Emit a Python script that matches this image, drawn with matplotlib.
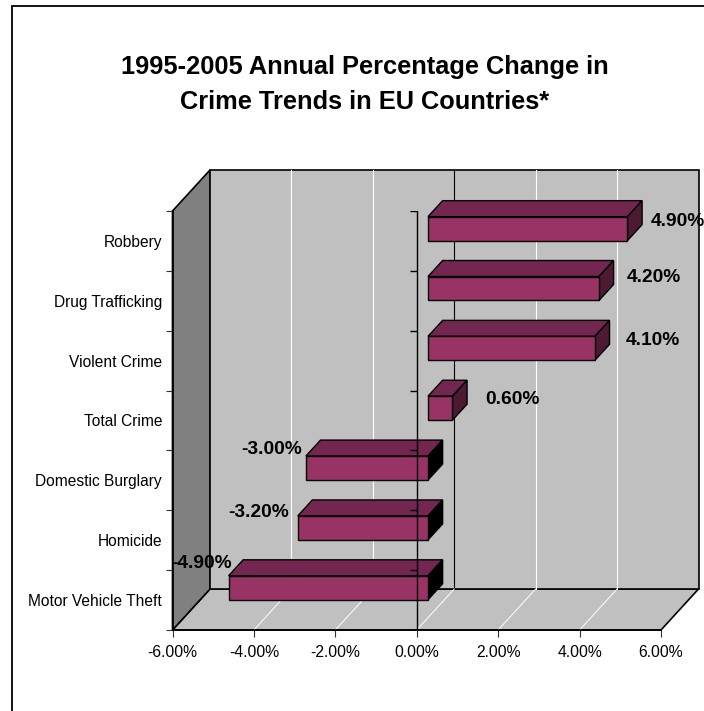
# -*- coding: utf-8 -*-
"""
Excel style 3D bar chart, crime trends in EU countries
"""
import numpy as np
import matplotlib
matplotlib.use("Agg")
import matplotlib.pyplot as plt
from matplotlib.patches import Polygon, Rectangle

plt.rcParams['font.family'] = ['Liberation Sans', 'DejaVu Sans']

title = "1995-2005 Annual Percentage Change in\nCrime Trends in EU Countries*"
categories = ["Robbery", "Drug Trafficking", "Violent Crime", "Total Crime",
              "Domestic Burglary", "Homicide", "Motor Vehicle Theft"]
changes = [4.9, 4.2, 4.1, 0.6, -3.0, -3.2, -4.9]
x_ticks = [-6, -4, -2, 0, 2, 4, 6]

W, H = 704, 711
fig = plt.figure(figsize=(W / 100, H / 100), dpi=100)

# the axes is the front plane of the 3D box
left, right, top, bottom = 172.5, 661, 211, 630
ax = fig.add_axes([left / W, 1 - bottom / H, (right - left) / W, (bottom - top) / H])
ax.set_xlim(-6, 6)
ax.set_ylim(6.5, -0.5)
ax.set_facecolor('none')

# depth of the box in data units
depth_x = 37.5 / ((right - left) / 12)
depth_y = -41 / ((bottom - top) / 7)


def shifted(x, y, d):
    return (x + d * depth_x, y + d * depth_y)


def box_poly(points, color, z, lw=1.0, edge='black'):
    ax.add_patch(Polygon(points, closed=True, facecolor=color, edgecolor=edge,
                         linewidth=lw, zorder=z, clip_on=False, joinstyle='miter'))


y0, y1 = 6.5, -0.5
# floor, side wall and back wall
box_poly([(-6, y0), (6, y0), shifted(6, y0, 1), shifted(-6, y0, 1)], '#C0C0C0', 1, lw=1.2)
box_poly([(-6, y0), shifted(-6, y0, 1), shifted(-6, y1, 1), (-6, y1)], '#808080', 1, lw=1.2)
box_poly([shifted(-6, y0, 1), shifted(6, y0, 1), shifted(6, y1, 1), shifted(-6, y1, 1)],
         '#C0C0C0', 1, lw=1.2)

# gridlines on the back wall and the floor
for t in x_ticks[1:-1]:
    bx, by0 = shifted(t, y0, 1)
    _, by1 = shifted(t, y1, 1)
    ax.plot([bx, bx], [by0, by1], color='black' if t == 0 else 'white', lw=0.8,
            zorder=1.5, clip_on=False)
    ax.plot([t, bx], [y0, by0], color='white', lw=0.7, zorder=1.5, clip_on=False)

# bars sit in the middle of the depth
d_front, d_back = 0.3, 0.69
bar_h = 0.4
front_col, top_col, side_col = '#993366', '#732650', '#4D1A33'
ypos = np.arange(len(categories))

ax.barh(ypos + d_front * depth_y, changes, left=d_front * depth_x, height=bar_h,
        color=front_col, edgecolor='black', linewidth=1.0, zorder=3.2)
for y, v in zip(ypos, changes):
    lo, hi = min(v, 0), max(v, 0)
    ya, yb = y - bar_h / 2, y + bar_h / 2
    box_poly([shifted(lo, ya, d_front), shifted(hi, ya, d_front),
              shifted(hi, ya, d_back), shifted(lo, ya, d_back)], top_col, 3)
    box_poly([shifted(hi, ya, d_front), shifted(hi, yb, d_front),
              shifted(hi, yb, d_back), shifted(hi, ya, d_back)],
             side_col if v > 0 else 'black', 3)

# value axis crossing at zero, drawn over the bars
ax.axvline(0, color='black', lw=1.0, zorder=4)
edges = np.arange(len(categories) + 1) - 0.5
ax.hlines(edges, -7 / ((right - left) / 12), 0, color='black', lw=1.0, zorder=4)

# data labels, hand nudged like the original (pixels from the bar end)
nudges = [(23, 7.5), (28, 11), (31, 8), (33, 9), (-4, 19), (-9, 15), (3, 24)]
for y, v, (nx, ny) in zip(ypos, changes, nudges):
    ax.annotate("%.2f%%" % v, xy=shifted(v, y, d_front), xytext=(nx, ny),
                textcoords='offset pixels', ha='left' if v > 0 else 'right', va='center',
                fontsize=13.8, fontweight='bold', color='black', zorder=6, annotation_clip=False)

ax.set_xticks(x_ticks)
ax.set_xticklabels(["%.2f%%" % t for t in x_ticks], fontsize=11.3)
ax.set_yticks(ypos)
ax.set_yticklabels(categories, fontsize=11.2)
ax.set_yticks(edges, minor=True)
ax.tick_params(axis='y', which='major', length=0, pad=7.5)
ax.tick_params(axis='y', which='minor', length=5, width=0.8, color='#333333')
ax.tick_params(axis='x', length=5, width=0.8, color='#333333', pad=5.5)
for s in ['top', 'right']:
    ax.spines[s].set_visible(False)
for s in ['left', 'bottom']:
    ax.spines[s].set_linewidth(1.2)
    ax.spines[s].set_zorder(5)

fig.text(365 / W, 1 - 84.5 / H, title, ha='center', va='center', fontsize=18.3,
         fontweight='bold', linespacing=1.55)

# chart frame, runs off the right and bottom of the picture
fig.add_artist(Rectangle((12 / W, -0.1), 1.1, 0.1 + (1 - 6 / H), transform=fig.transFigure,
                         facecolor='none', edgecolor='black', linewidth=1.3))

fig.savefig('out.png', dpi=100)
